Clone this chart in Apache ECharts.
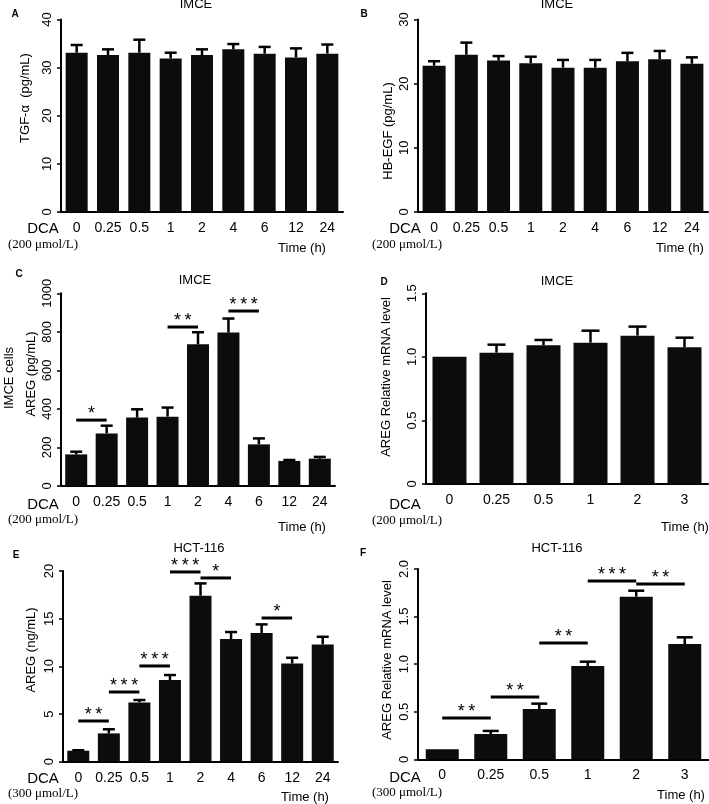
<!DOCTYPE html>
<html><head><meta charset="utf-8">
<script src="https://cdn.jsdelivr.net/npm/echarts@6/dist/echarts.min.js"></script>
<style>html,body{margin:0;padding:0;background:#fff}#c{width:709px;height:804px}</style>
</head><body><div id="c"></div>
<script>
// ---------- data ----------
const catsLong = ['0','0.25','0.5','1','2','4','6','12','24'];
const catsShort = ['0','0.25','0.5','1','2','3'];

const aMean = [33.1, 32.6, 33.1, 31.9, 32.6, 33.8, 32.9, 32.1, 32.9];
const aSem  = [1.6, 1.2, 2.7, 1.2, 1.2, 1.1, 1.4, 1.9, 1.9];

const bMean = [22.8, 24.5, 23.6, 23.2, 22.5, 22.5, 23.5, 23.8, 23.1];
const bSem  = [0.7, 1.9, 0.7, 1.0, 1.2, 1.2, 1.3, 1.3, 1.0];

const cMean = [164, 273, 355, 360, 735, 796, 216, 130, 142];
const cSem  = [14, 40, 43, 47, 63, 73, 31, 5, 9];
const cSig  = [[0,1,342,'*'],[3,4,825,'**'],[5,6,908,'***']];

const dMean = [1.0, 1.033, 1.091, 1.112, 1.167, 1.075];
const dSem  = [0, 0.063, 0.042, 0.094, 0.071, 0.076];

const eMean = [1.15, 2.97, 6.22, 8.57, 17.4, 12.87, 13.5, 10.3, 12.3];
const eSem  = [0.05, 0.43, 0.25, 0.52, 1.3, 0.73, 0.9, 0.6, 0.8];
const eSig  = [[0,1,4.27,'**'],[1,2,7.31,'***'],[2,3,10.04,'***'],[3,4,19.9,'***'],[4,5,19.27,'*'],[6,7,15.07,'*']];

const fMean = [0.105, 0.266, 0.529, 0.981, 1.709, 1.212];
const fSem  = [0, 0.032, 0.056, 0.045, 0.063, 0.07];
const fSig  = [[0,1,0.434,'**'],[1,2,0.655,'**'],[2,3,1.222,'**'],[3,4,1.874,'***'],[4,5,1.842,'**']];

const yMax = [40, 30, 1000, 1.5, 20, 2.0];
const yStep = [10, 10, 200, 0.5, 5, 0.5];
const titles = ['IMCE','IMCE','IMCE','IMCE','HCT-116','HCT-116'];
const yNames = ['TGF-\u03b1  (pg/mL)','HB-EGF (pg/mL)','AREG (pg/mL)','AREG Relative mRNA level','AREG (ng/mL)','AREG Relative mRNA level'];
const concs = ['(200 \u03bcmol/L)','(200 \u03bcmol/L)','(200 \u03bcmol/L)','(200 \u03bcmol/L)','(300 \u03bcmol/L)','(300 \u03bcmol/L)'];
const letters = ['A','B','C','D','E','F'];

// ---------- layout ----------
const panels = [
  {grid:{left:61,top:19.5,width:282,height:192.5}, cats:catsLong, mean:aMean, sem:aSem, sig:[], bw:22, cap:12, dec:false},
  {grid:{left:418,top:19.5,width:290,height:192.5}, cats:catsLong, mean:bMean, sem:bSem, sig:[], bw:23, cap:12, dec:false},
  {grid:{left:61,top:293.3,width:274,height:192.7}, cats:catsLong, mean:cMean, sem:cSem, sig:cSig, bw:22, cap:12, dec:false},
  {grid:{left:426,top:293.3,width:282,height:190.7}, cats:catsShort, mean:dMean, sem:dSem, sig:[], bw:34, cap:18, dec:true},
  {grid:{left:63,top:571,width:275,height:190.7}, cats:catsLong, mean:eMean, sem:eSem, sig:eSig, bw:22, cap:12, dec:false},
  {grid:{left:418,top:569,width:291,height:190.3}, cats:catsShort, mean:fMean, sem:fSem, sig:fSig, bw:33, cap:16, dec:true}
];
// text positions
const letterPos = [[15,14],[364,14],[19,274],[384,282],[16,555],[363,553]];
const titlePos = [[196,4],[557,4],[195,280],[557,281],[199,548],[557,548]];
const yNamePos = [[25,98],[388,131],[31,374],[386,377],[31,650],[387,660]];
const dcaPos = [[43,229],[405,229],[43,505],[405,505],[43,779],[405,778]];
const concPos = [[43,245],[407,245],[43,520],[407,521],[43,794],[407,793]];
const timePos = [[302,248],[680,248],[302,527],[685,527],[305,797],[681,795]];

const FONT = 'Liberation Sans, Arial, sans-serif';
const grids=[], xAxes=[], yAxes=[], series=[], graphics=[];

panels.forEach((p,i)=>{
  grids.push(Object.assign({}, p.grid));
  xAxes.push({type:'category', gridIndex:i, data:p.cats, boundaryGap:true,
    axisLine:{lineStyle:{color:'#000', width:2}},
    axisTick:{alignWithLabel:true, length:5, lineStyle:{color:'#000', width:1.5}},
    axisLabel:{interval:0, color:'#000', fontSize:14, fontFamily:FONT, margin:9}
  });
  yAxes.push({type:'value', gridIndex:i, min:0, max:yMax[i], interval:yStep[i],
    splitLine:{show:false},
    axisLine:{show:true, lineStyle:{color:'#000', width:2}},
    axisTick:{show:true, length:4, lineStyle:{color:'#000', width:1.5}},
    axisLabel:{rotate:90, margin:7, color:'#000', fontSize:13, fontFamily:FONT,
      formatter: p.dec ? (v=> v===0 ? '0' : v.toFixed(1)) : (v=> String(v))}
  });
  series.push({type:'bar', xAxisIndex:i, yAxisIndex:i, data:p.mean, barWidth:p.bw,
    itemStyle:{color:'#0c0c0c'}, silent:true, animation:false});
  const cap = p.cap;
  series.push({type:'custom', xAxisIndex:i, yAxisIndex:i, silent:true, animation:false,
    data: p.mean.map((m,k)=>[k, m, p.sem[k]]),
    encode:{x:0, y:1},
    renderItem:(params, api)=>{
      const x = api.value(0), m = api.value(1), e = api.value(2);
      if (!e) return null;
      const p0 = api.coord([x, m]), p1 = api.coord([x, m+e]);
      return {type:'group', children:[
        {type:'line', shape:{x1:p0[0], y1:p0[1], x2:p1[0], y2:p1[1]}, style:{stroke:'#000', lineWidth:2.5}},
        {type:'line', shape:{x1:p1[0]-cap/2, y1:p1[1], x2:p1[0]+cap/2, y2:p1[1]}, style:{stroke:'#000', lineWidth:2.5}}
      ]};
    }
  });
  if (p.sig.length){
    const sig = p.sig;
    series.push({type:'custom', xAxisIndex:i, yAxisIndex:i, silent:true, animation:false,
      data: sig.map(s=>[s[0], s[2]]),
      encode:{x:0, y:1},
      renderItem:(params, api)=>{
        const s = sig[params.dataIndex];
        const a = api.coord([s[0], s[2]]), b = api.coord([s[1], s[2]]);
        return {type:'group', children:[
          {type:'line', shape:{x1:a[0], y1:a[1], x2:b[0], y2:b[1]}, style:{stroke:'#000', lineWidth:3}},
          {type:'text', x:(a[0]+b[0])/2, y:a[1]-6, style:{text:s[3].split('').join('\u2009'), fill:'#000', font:'18px '+FONT, align:'center', verticalAlign:'middle'}}
        ]};
      }
    });
  }
  graphics.push({type:'text', x:letterPos[i][0], y:letterPos[i][1], style:{text:letters[i], fill:'#000', font:'bold 10px '+FONT, align:'center', verticalAlign:'middle'}});
  graphics.push({type:'text', x:titlePos[i][0], y:titlePos[i][1], style:{text:titles[i], fill:'#000', font:'13px '+FONT, align:'center', verticalAlign:'middle'}});
  graphics.push({type:'text', x:yNamePos[i][0], y:yNamePos[i][1], rotation:Math.PI/2, style:{text:yNames[i], fill:'#000', font:'13px '+FONT, align:'center', verticalAlign:'middle'}});
  graphics.push({type:'text', x:dcaPos[i][0], y:dcaPos[i][1], style:{text:'DCA', fill:'#000', font:'15px '+FONT, align:'center', verticalAlign:'middle'}});
  graphics.push({type:'text', x:concPos[i][0], y:concPos[i][1], style:{text:concs[i], fill:'#000', font:'13px Liberation Serif, Times New Roman, serif', align:'center', verticalAlign:'middle'}});
  graphics.push({type:'text', x:timePos[i][0], y:timePos[i][1], style:{text:'Time (h)', fill:'#000', font:'13px '+FONT, align:'center', verticalAlign:'middle'}});
});
graphics.push({type:'text', x:9, y:378, rotation:Math.PI/2, style:{text:'IMCE cells', fill:'#000', font:'13px '+FONT, align:'center', verticalAlign:'middle'}});

const chart = echarts.init(document.getElementById('c'), null, {renderer:'canvas'});
chart.setOption({animation:false, backgroundColor:'#fff', grid:grids, xAxis:xAxes, yAxis:yAxes, series:series, graphic:graphics});
</script></body></html>
